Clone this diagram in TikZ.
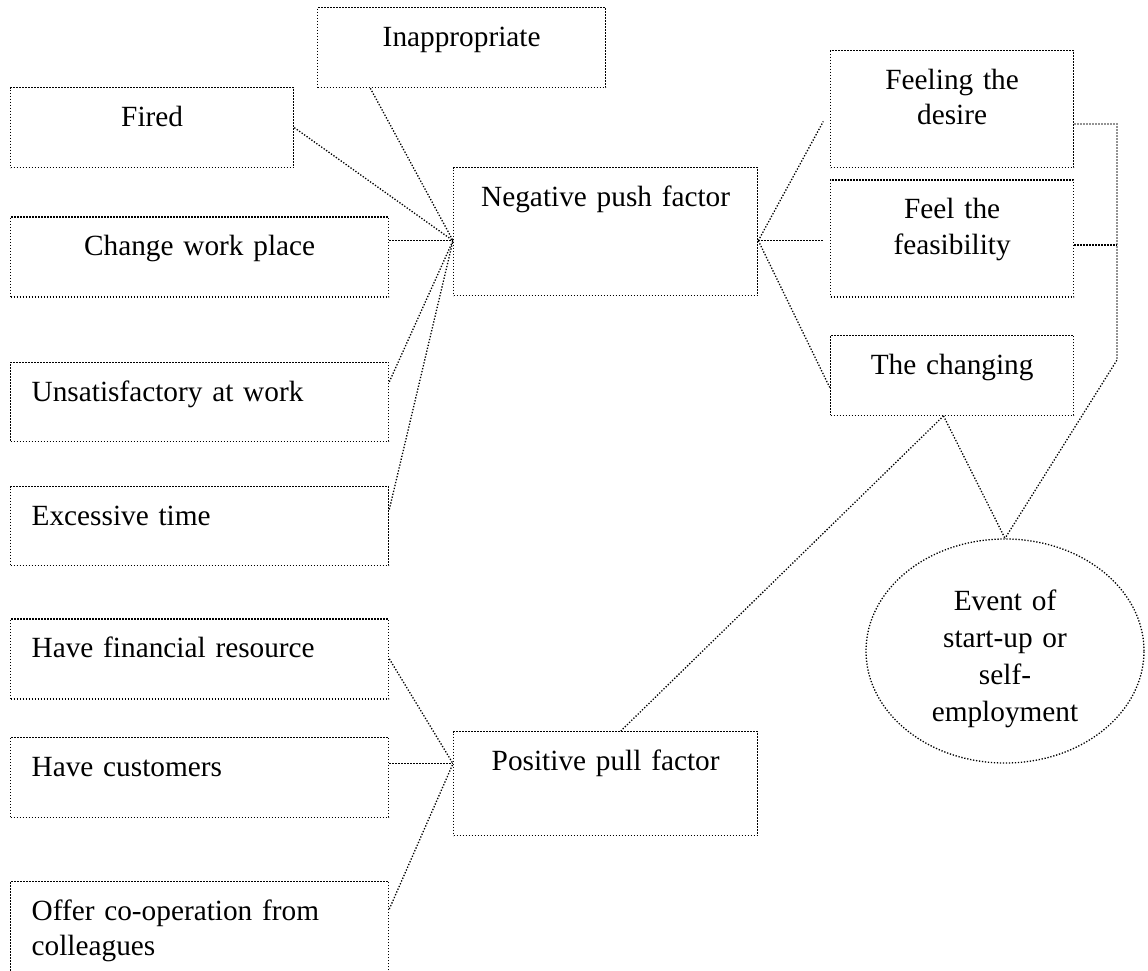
\documentclass[tikz,border=0pt]{standalone}
\usepackage{fontspec}
\setmainfont{Liberation Serif}
\usetikzlibrary{shapes.geometric, positioning}

\begin{document}
\begin{tikzpicture}[
		x=1pt, y=-1pt,
		font=\fontsize{29.3}{35.2}\selectfont,
		dots/.style={line width=1.3pt, dash pattern=on 1.3pt off 1.7pt},
		factor/.style={rectangle, draw, dots, inner xsep=0pt, inner ysep=0pt, text height=39pt, align=center},
		item/.style={factor, inner xsep=21pt, text width=336pt, align=left},
		event/.style={ellipse, draw, dots, inner sep=0pt, minimum width=278pt, minimum height=224pt, text width=160pt, text height=30pt, text depth=112pt, align=center, font=\fontsize{29.3}{37}\selectfont},
		link/.style={dots}
		]
		\useasboundingbox (0,0) rectangle (1148,971);

		% Left column
		\node[factor, text width=283pt, text depth=41pt, anchor=north west] (fired) at (10,87) {Fired};
		\node[factor, text width=378pt, text depth=41pt, below=48pt of fired.south west, anchor=north west] (workplace) {Change work place};
		\node[item, text depth=40pt, below=64pt of workplace.south west, anchor=north west] (unsatisfied) {Unsatisfactory at work};
		\node[item, text depth=40pt, below=44pt of unsatisfied.south west, anchor=north west] (overtime) {Excessive time};
		\node[item, text depth=41pt, below=52pt of overtime.south west, anchor=north west] (finance) {Have financial resource};
		\node[item, text depth=41pt, below=37pt of finance.south west, anchor=north west] (customers) {Have customers};
		\node[item, text depth=56pt, below=63pt of customers.south west, anchor=north west] (cooperation) {Offer co-operation from\\colleagues};

		% Middle
		\node[factor, text width=288pt, text depth=41pt, anchor=north west] (inappropriate) at (317,7) {Inappropriate};
		\node[factor, text width=304pt, text depth=89pt, anchor=north west] (push) at (453,167) {Negative push factor};
		\node[factor, text width=304pt, text depth=65pt, anchor=north west] (pull) at (453,731) {Positive pull factor};

		% Right column
		\node[factor, text width=243pt, text depth=78pt, anchor=north west] (desire) at (830,50) {Feeling the\\desire};
		\node[factor, text width=243pt, text depth=78pt, below=11pt of desire] (feasibility) {Feel the\\feasibility};
		\node[factor, text width=243pt, text depth=41pt, below=37pt of feasibility] (changing) {The changing};
		\node[event] (startup) at (1005,651) {Event of\\start-up or\\self-\\employment};

		% Meeting points
		\coordinate (pushin) at ([yshift=-9pt]push.west);
		\coordinate (pushout) at ([yshift=-9pt]push.east);
		\coordinate (pullin) at ([yshift=20pt]pull.west);
		\coordinate (railtop) at (1117,124);
		\coordinate (railbot) at (1117,360);

		% Lines
		\draw[link] (inappropriate.204) -- (pushin);
		\draw[link] (fired.east) -- (pushin);
		\draw[link] (pushin -| workplace.east) -- (pushin);
		\draw[link] (unsatisfied.6) -- (pushin);
		\draw[link] (overtime.5) -- (pushin);

		\draw[link, shorten >=14pt] (pushout) -- (desire.west);
		\draw[link, shorten >=7pt] (pushout) -- (pushout -| feasibility.west);
		\draw[link] (pushout) -- (changing.186);

		\draw[link] (railtop -| desire.east) -- (railtop) -- (railbot) -- (startup.north);
		\draw[link] (feasibility.357) -- (feasibility.357 -| railtop);
		\draw[link] (changing.258) -- (startup.north);
		\draw[link] (changing.258) -- (pull.74);

		\draw[link] (finance.east) -- (pullin);
		\draw[link] (pullin -| customers.east) -- (pullin);
		\draw[link] (cooperation.6) -- (pullin);
	\end{tikzpicture}
\end{document}
